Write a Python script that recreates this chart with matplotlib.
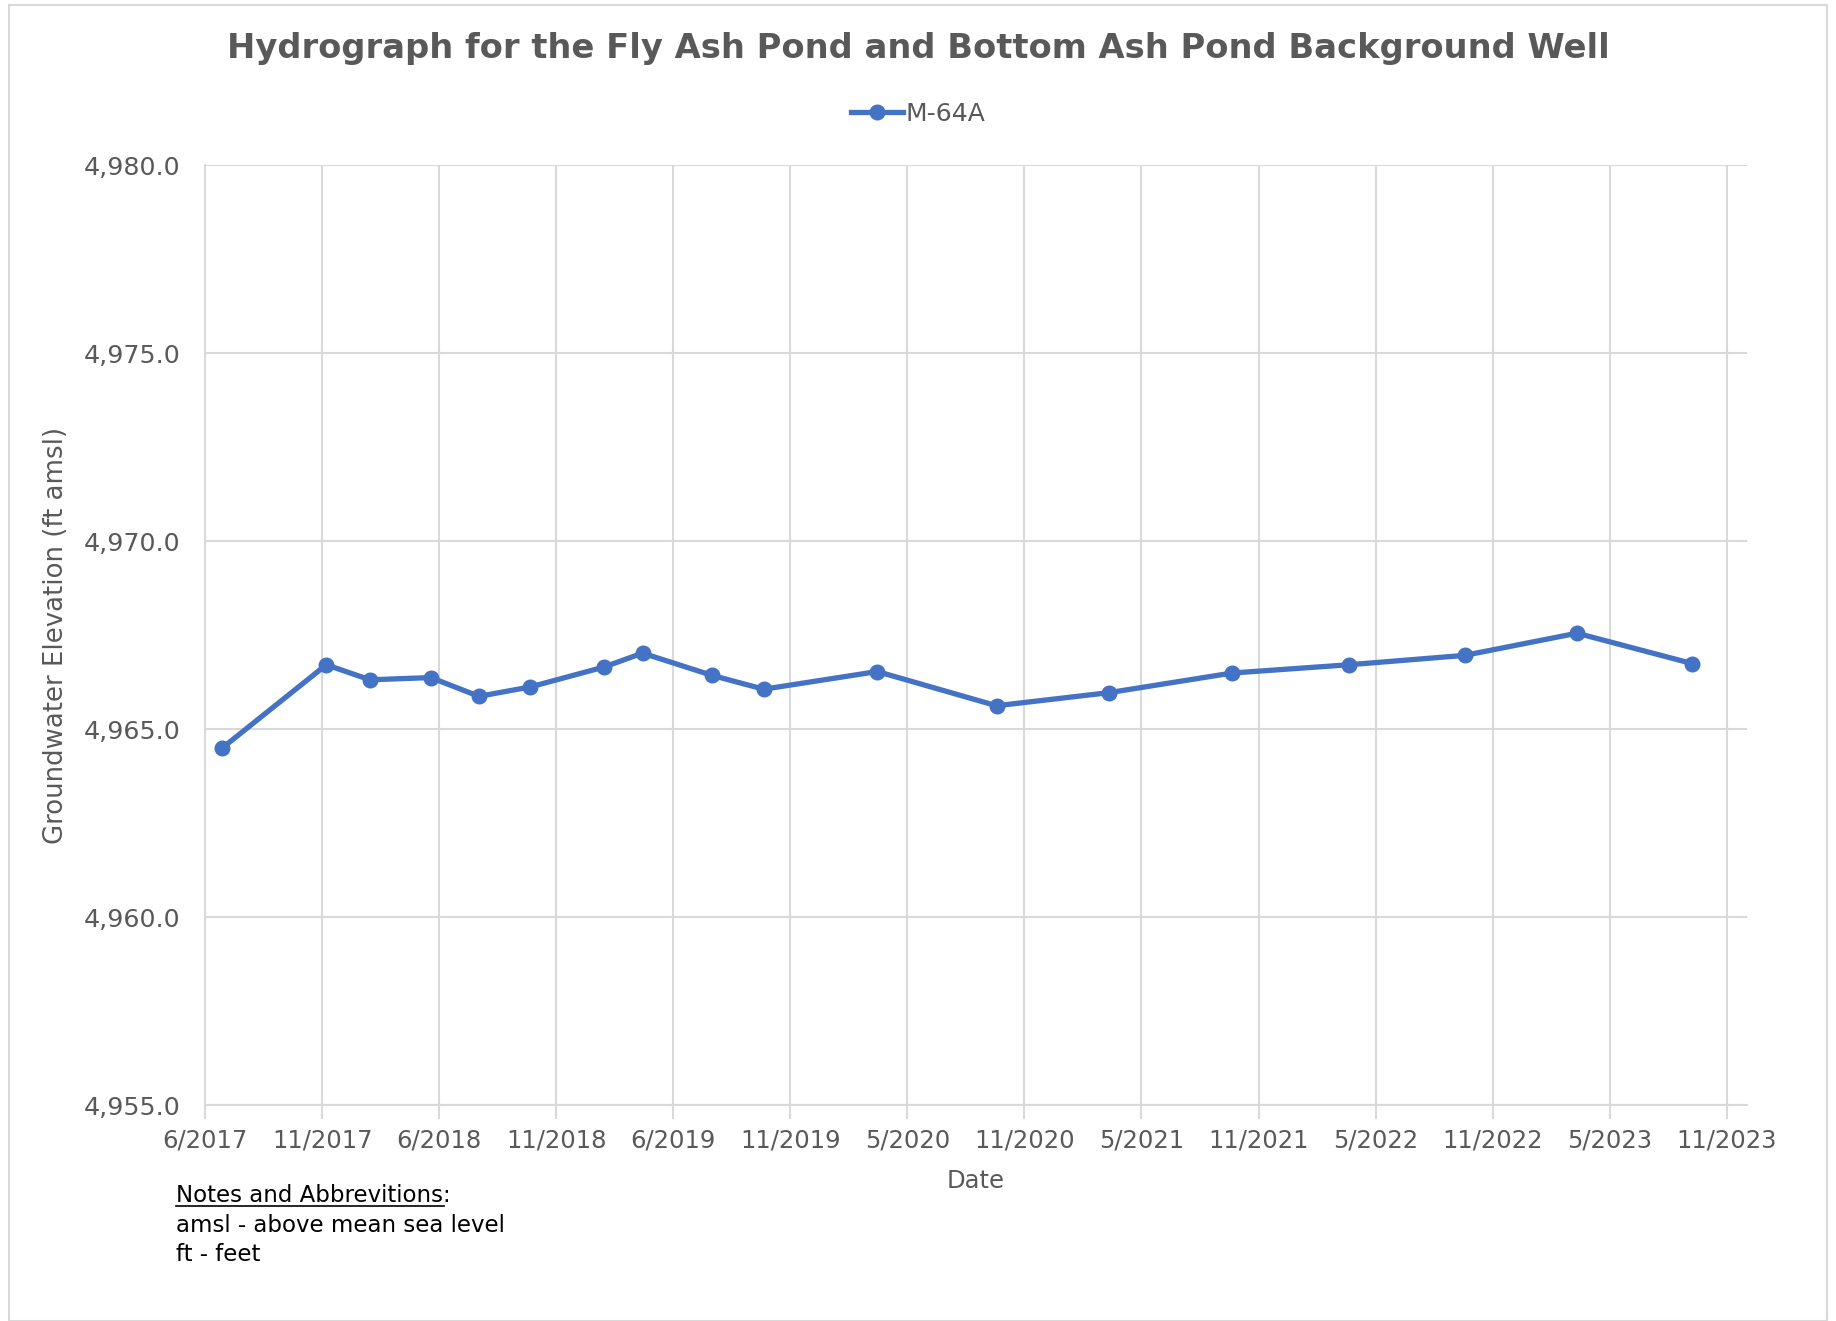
import datetime as dt

import matplotlib
matplotlib.use("Agg")
import matplotlib.pyplot as plt
from matplotlib.patches import Rectangle
from matplotlib.ticker import FuncFormatter

plt.rcParams['font.family'] = ['DejaVu Sans']

# sample dates and groundwater elevations for M-64A
dates = ['2017-06-28', '2017-12-07', '2018-02-13', '2018-05-19', '2018-08-02',
         '2018-10-21', '2019-02-13', '2019-04-14', '2019-07-31', '2019-10-20',
         '2020-04-14', '2020-10-17', '2021-04-11', '2021-10-19', '2022-04-19',
         '2022-10-17', '2023-04-10', '2023-10-07']
elev = [4964.50, 4966.71, 4966.31, 4966.37, 4965.87,
        4966.12, 4966.65, 4967.02, 4966.43, 4966.06,
        4966.53, 4965.62, 4965.97, 4966.49, 4966.71,
        4966.96, 4967.55, 4966.74]
series_name = 'M-64A'

tick_labels = ['6/2017', '11/2017', '6/2018', '11/2018', '6/2019', '11/2019',
               '5/2020', '11/2020', '5/2021', '11/2021', '5/2022', '11/2022',
               '5/2023', '11/2023']
y_ticks = [4955, 4960, 4965, 4970, 4975, 4980]

x = [dt.datetime.strptime(d, '%Y-%m-%d') for d in dates]
start = dt.datetime(2017, 6, 1)
end = dt.datetime(2023, 12, 31)
# excel-style major unit of 182.5 days
tick_pos = [start + dt.timedelta(days=182.5 * i) for i in range(len(tick_labels))]

grey = '#595959'
grid_c = '#d9d9d9'
blue = '#4472C4'

fig = plt.figure(figsize=(18.36, 13.21), dpi=100)
ax = fig.add_axes([0.1117, 0.1635, 0.8398, 0.7115])

# outer chart border
fig.patches.append(Rectangle((0.005, 0.0), 0.99, 0.996, transform=fig.transFigure,
                             fill=False, edgecolor=grid_c, lw=1.5))

ax.plot(x, elev, color=blue, lw=3.8, marker='o', ms=10.5, label=series_name,
        solid_joinstyle='round', zorder=3)

ax.set_xlim(start, end)
ax.set_ylim(4955, 4980)
ax.set_xticks(tick_pos)
ax.set_xticklabels(tick_labels)
ax.set_yticks(y_ticks)
ax.yaxis.set_major_formatter(FuncFormatter(lambda v, p: f'{v:,.1f}'))

ax.grid(True, color=grid_c, lw=1.5)
ax.set_axisbelow(True)
for s in ['top', 'right']:
    ax.spines[s].set_visible(False)
ax.spines['left'].set_color(grid_c)
ax.spines['bottom'].set_color(grid_c)
ax.spines['left'].set_linewidth(1.5)
ax.spines['bottom'].set_linewidth(1.5)
ax.tick_params(axis='x', length=10, color=grid_c, width=1.5, labelsize=17.5,
               labelcolor=grey, pad=7)
ax.tick_params(axis='y', length=0, labelsize=18.3, labelcolor=grey, pad=18)

ax.set_xlabel('Date', fontsize=17.5, color=grey, labelpad=12)
ax.set_ylabel('Groundwater Elevation (ft amsl)', fontsize=18.7, color=grey, labelpad=10)

fig.text(0.5, 0.963, 'Hydrograph for the Fly Ash Pond and Bottom Ash Pond Background Well',
         ha='center', va='center', fontsize=24.3, fontweight='bold', color=grey)

fig.legend(loc='center', bbox_to_anchor=(0.5, 0.914), frameon=False,
           fontsize=18, labelcolor=grey, handlelength=2.1, handletextpad=0.1)

notes_y = 0.095
t = fig.text(0.096, notes_y, 'Notes and Abbrevitions:', fontsize=16.5, color='black',
             va='center')
fig.text(0.096, notes_y - 0.0225, 'amsl - above mean sea level', fontsize=16.5,
         color='black', va='center')
fig.text(0.096, notes_y - 0.045, 'ft - feet', fontsize=16.5, color='black', va='center')
fig.canvas.draw()
bb = t.get_window_extent().transformed(fig.transFigure.inverted())
fig.add_artist(plt.Line2D([bb.x0, bb.x1 - 0.004], [bb.y0 + 0.001, bb.y0 + 0.001],
                          transform=fig.transFigure, color='black', lw=1.2))

fig.savefig('out.png', dpi=100)
